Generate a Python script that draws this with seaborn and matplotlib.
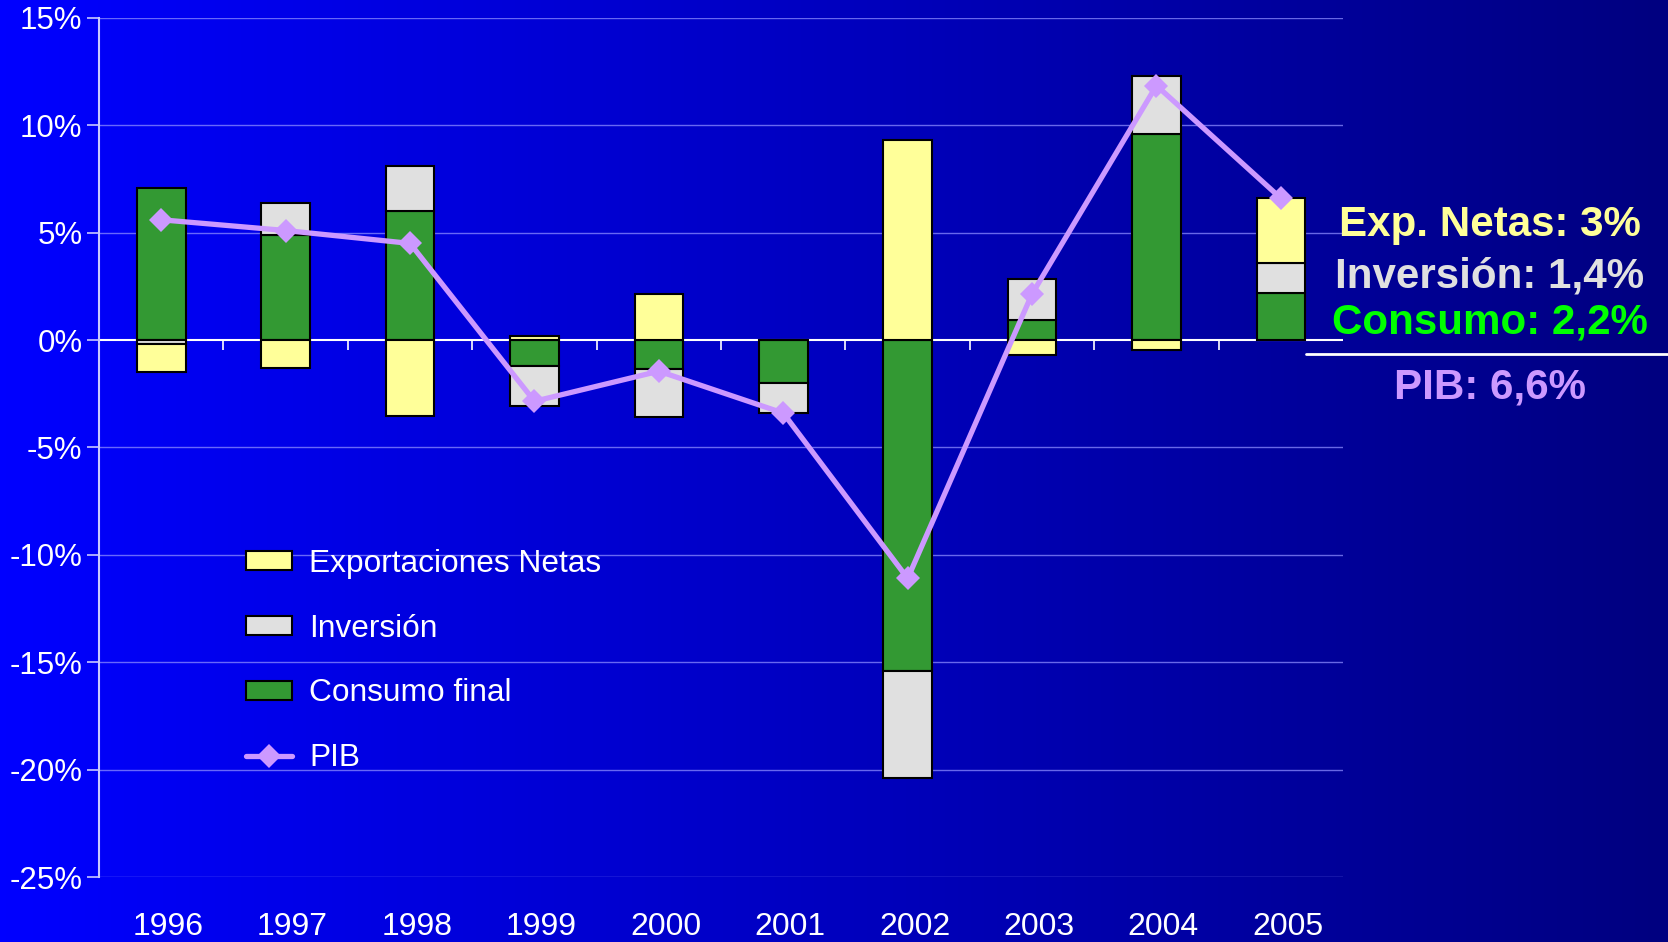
import numpy as np
import pandas as pd
import matplotlib
matplotlib.use("Agg")
import matplotlib.pyplot as plt
import matplotlib.transforms as mtransforms
import seaborn as sns
from matplotlib.colors import LinearSegmentedColormap
from matplotlib.patches import Patch
from matplotlib.lines import Line2D

years = ["1996", "1997", "1998", "1999", "2000", "2001", "2002", "2003", "2004", "2005"]
consumo = [7.1, 4.9, 6.0, -1.2, -1.35, -2.0, -15.4, 0.95, 9.6, 2.2]
inversion = [-0.2, 1.5, 2.1, -1.85, -2.25, -1.4, -5.0, 1.9, 2.7, 1.4]
exportaciones = [-1.3, -1.3, -3.55, 0.2, 2.15, 0.0, 9.3, -0.7, -0.45, 3.0]
pib = [5.6, 5.1, 4.5, -2.85, -1.45, -3.4, -11.1, 2.15, 11.85, 6.6]

y_ticks = [15, 10, 5, 0, -5, -10, -15, -20, -25]
summary_lines = ["Exp. Netas: 3%", "Inversión: 1,4%", "Consumo: 2,2%"]
summary_pib = "PIB: 6,6%"

c_exp = "#FFFF99"
c_inv = "#E0E0E0"
c_cons = "#339933"
c_pib = "#CC99FF"

sns.set_style("white")
plt.rcParams["font.family"] = ["Liberation Sans", "DejaVu Sans"]

fig = plt.figure(figsize=(16.68, 9.42), dpi=100)

# gradient background
bg = fig.add_axes([0, 0, 1, 1], zorder=-10)
cmap = LinearSegmentedColormap.from_list("bg", ["#0000FF", "#000080"])
bg.imshow(np.linspace(0, 1, 256)[None, :], aspect="auto", cmap=cmap, extent=[0, 1, 0, 1])
bg.axis("off")

ax = fig.add_axes([0.0594, 0.069, 0.7458, 0.912])
ax.set_facecolor("none")

x = np.arange(len(years))
width = 0.39

# diverging stack: consumo nearest zero, then inversion, then exportaciones
pos_base = np.zeros(len(years))
neg_base = np.zeros(len(years))
for vals, col in [(consumo, c_cons), (inversion, c_inv), (exportaciones, c_exp)]:
    v = np.array(vals)
    bottoms = np.where(v >= 0, pos_base, neg_base)
    ax.bar(x, v, width=width, bottom=bottoms, color=col, edgecolor="black",
           linewidth=1.5, zorder=3)
    pos_base = pos_base + np.where(v > 0, v, 0)
    neg_base = neg_base + np.where(v < 0, v, 0)

df = pd.DataFrame({"x": x, "pib": pib})
sns.lineplot(data=df, x="x", y="pib", ax=ax, color=c_pib, linewidth=3.8,
             marker="D", markersize=12.5, markeredgewidth=0, zorder=5)

# grid, zero line and category ticks on the zero line
for t in y_ticks:
    if t != 0:
        ax.axhline(t, color="#8C8CFF", linewidth=1.0, alpha=0.75, zorder=1)
ax.axhline(0, color="white", linewidth=1.5, zorder=2)
ax.vlines(x[:-1] + 0.5, -0.45, 0, color="white", linewidth=1.2, zorder=2)

ax.set_xlim(-0.5, len(years) - 0.5)
ax.set_ylim(-25, 15)
ax.set_yticks(y_ticks)
ax.set_yticklabels([f"{t}%" for t in y_ticks])
ax.set_xticks(x)
ax.set_xticklabels(years)
ax.set_xlabel("")
ax.set_ylabel("")
ax.tick_params(axis="y", colors="white", labelsize=22.5, length=9, width=1.2,
               direction="out", pad=3, left=True, color="#C8C8FF")
ax.tick_params(axis="x", colors="white", labelsize=23, length=0, pad=25)
shift = mtransforms.ScaledTranslation(5 / 72, 0, fig.dpi_scale_trans)
for lab in ax.get_xticklabels():
    lab.set_transform(lab.get_transform() + shift)
for s in ["top", "right", "bottom"]:
    ax.spines[s].set_visible(False)
ax.spines["left"].set_color("#C8C8FF")
ax.spines["left"].set_linewidth(1.5)

handles = [
    Patch(facecolor=c_exp, edgecolor="black", linewidth=1.5),
    Patch(facecolor=c_inv, edgecolor="black", linewidth=1.5),
    Patch(facecolor=c_cons, edgecolor="black", linewidth=1.5),
    Line2D([], [], color=c_pib, linewidth=3.8, marker="D", markersize=12.5, markeredgewidth=0),
]
labels = ["Exportaciones Netas", "Inversión", "Consumo final", "PIB"]
leg = ax.legend(handles, labels, loc="upper left", bbox_to_anchor=(0.118, 0.382),
                frameon=False, fontsize=22.8, labelcolor="white", handlelength=1.45,
                handleheight=0.55, handletextpad=0.55, labelspacing=1.1,
                borderpad=0, borderaxespad=0)

# summary text on the right
text_cols = [c_exp, c_inv, "#00FF00"]
text_y = [0.761, 0.706, 0.658]
for s, c, yy in zip(summary_lines, text_cols, text_y):
    fig.text(0.893, yy, s, color=c, fontsize=30.3, fontweight="bold",
             ha="center", va="center")
fig.add_artist(Line2D([0.783, 1.0], [0.624, 0.624], color="white", linewidth=2,
                      transform=fig.transFigure))
fig.text(0.893, 0.589, summary_pib, color=c_pib, fontsize=30.3, fontweight="bold",
         ha="center", va="center")

fig.savefig("out.png", dpi=100)
